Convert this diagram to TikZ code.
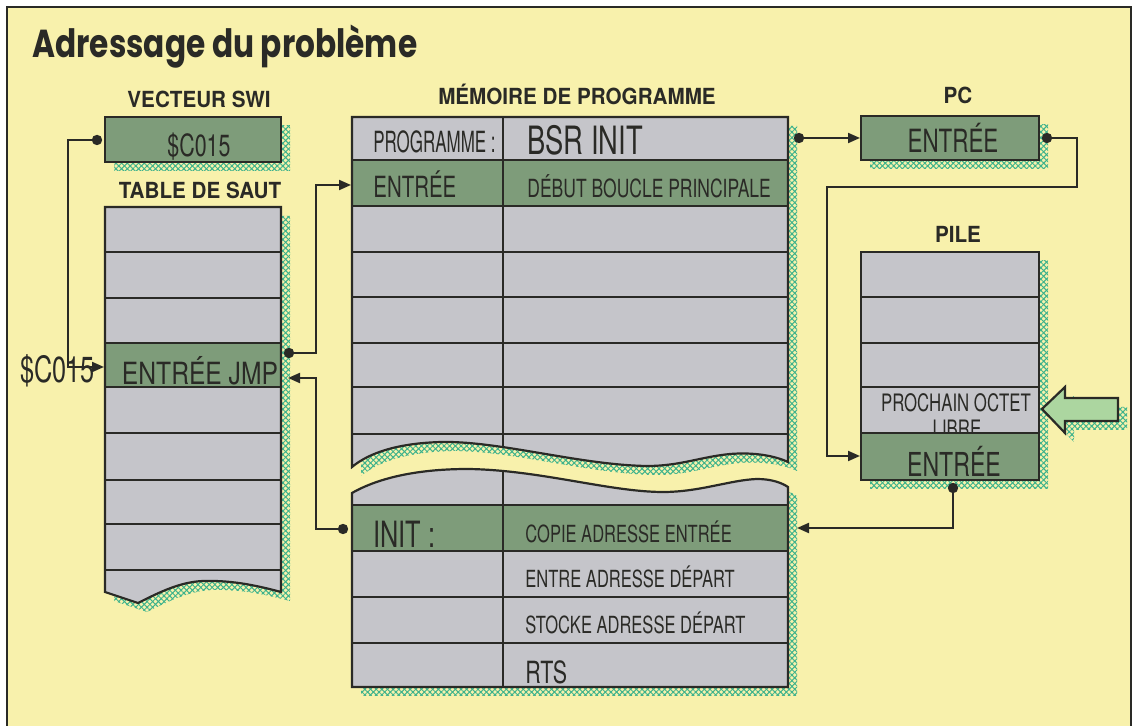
\documentclass[tikz,border=0pt]{standalone}
\usepackage{fontspec}
\setmainfont{TeX Gyre Heros}
\newfontfamily\titlefont[FakeStretch=0.8]{Poppins}
\newfontfamily\labfont[FakeStretch=0.93]{TeX Gyre Heros}
\newfontfamily\condfont[FakeStretch=0.7]{TeX Gyre Heros}
\usetikzlibrary{arrows.meta,patterns.meta}

\definecolor{paper}{RGB}{248,241,172}
\definecolor{cellgrey}{RGB}{197,197,202}
\definecolor{cellgreen}{RGB}{126,156,122}
\definecolor{arrowgreen}{RGB}{172,214,160}
\definecolor{hatchgreen}{RGB}{60,178,140}
\definecolor{ink}{RGB}{42,42,38}

% contours des blocs
\newcommand\tablepath{(105,207) -- (281,207) -- (281,592) .. controls (262,587) and (235,580) .. (203,581) .. controls (180,582) and (160,592) .. (138,603) -- (105,592) -- cycle}
\newcommand\hautpath{(352,117) -- (788,117) -- (788,462) .. controls (775,456) and (755,452) .. (730,454) .. controls (700,457) and (680,466) .. (647,466) .. controls (580,465) and (500,441) .. (442,442) .. controls (400,443) and (370,452) .. (352,467) -- cycle}
\newcommand\baspath{(352,493) .. controls (380,477) and (420,469) .. (468,469) .. controls (540,470) and (610,492) .. (663,492) .. controls (700,492) and (730,480) .. (757,479) .. controls (772,479) and (782,483) .. (788,487) -- (788,687) -- (352,687) -- cycle}
\newcommand\flechepath{(1042,409) -- (1065,387) -- (1065,398) -- (1118,398) -- (1118,421) -- (1065,421) -- (1065,433) -- cycle}

\tikzset{
  box/.style={draw=ink, line width=1.1pt},
  rowline/.style={draw=ink, line width=0.9pt},
  shade/.style={pattern={Lines[angle=45,distance=2pt,line width=0.5pt]}, pattern color=hatchgreen,
    postaction={pattern={Lines[angle=-45,distance=2pt,line width=0.5pt]}, pattern color=hatchgreen}},
  conn/.style={draw=ink, line width=1pt},
  tip/.style={-{Triangle[length=6pt,width=5pt]}},
  lab/.style={font=\labfont\bfseries\fontsize{11.1}{13}\selectfont, text=ink, inner sep=0pt, anchor=base},
  txt/.style={font=\condfont\fontsize{#1}{#1}\selectfont, text=ink, inner sep=0pt},
}

\begin{document}
\begin{tikzpicture}[x=0.5pt, y=-0.5pt]
  \useasboundingbox (0,0) rectangle (1137,726);
  \fill[white] (0,0) rectangle (1137,726);
  \fill[paper] (7,7) rectangle (1131,726);
  \draw[ink, line width=1pt] (7,726) -- (7,7) -- (1131,7) -- (1131,726);

  \node[font=\titlefont\bfseries\fontsize{19.5}{22}\selectfont, text=ink, anchor=base west, inner sep=0pt] (titre) at (32,58) {Adressage du problème};

  % titres des blocs
  \node[lab] (lswi) at (199,108) {VECTEUR SWI};
  \node[lab] (ltable) at (200,199) {TABLE DE SAUT};
  \node[lab] (lmem) at (577,105) {MÉMOIRE DE PROGRAMME};
  \node[lab] (lpc) at (958,104) {PC};
  \node[lab] (lpile) at (958,243) {PILE};

  % vecteur SWI
  \fill[shade] (114,126) rectangle (290,171);
  \filldraw[box, fill=cellgreen] (105,117) rectangle (281,162);

  % table de saut
  \fill[shade, shift={(9,9)}] \tablepath;
  \fill[cellgrey] \tablepath;
  \begin{scope}
    \clip \tablepath;
    \fill[cellgreen] (105,343) rectangle (281,387);
    \foreach \y in {252,298,343,387,433,480,524,570}
      \draw[rowline] (105,\y) -- (281,\y);
  \end{scope}
  \draw[box] \tablepath;

  % memoire de programme, partie haute
  \fill[shade, shift={(9,9)}] \hautpath;
  \fill[cellgrey] \hautpath;
  \begin{scope}
    \clip \hautpath;
    \fill[cellgreen] (352,160) rectangle (788,206);
    \foreach \y in {160,206,252,297,343,387,434}
      \draw[rowline] (352,\y) -- (788,\y);
    \draw[rowline] (503,117) -- (503,470);
  \end{scope}
  \draw[box] \hautpath;

  % memoire de programme, partie basse
  \fill[shade, shift={(9,9)}] \baspath;
  \fill[cellgrey] \baspath;
  \begin{scope}
    \clip \baspath;
    \fill[cellgreen] (352,505) rectangle (788,551);
    \foreach \y in {505,551,597,643}
      \draw[rowline] (352,\y) -- (788,\y);
    \draw[rowline] (503,465) -- (503,687);
  \end{scope}
  \draw[box] \baspath;

  % PC
  \fill[shade] (870,125) rectangle (1048,169);
  \filldraw[box, fill=cellgreen] (861,116) rectangle (1039,160);

  % pile
  \fill[shade] (870,261) rectangle (1048,489);
  \fill[cellgrey] (861,252) rectangle (1039,480);
  \node[txt=12, anchor=base] (prochain) at (956,412) {PROCHAIN OCTET};
  \node[txt=12, anchor=base] (libre) at (957,438) {LIBRE};
  \fill[cellgreen] (861,433) rectangle (1039,480);
  \foreach \y in {297,343,387,433}
    \draw[rowline] (861,\y) -- (1039,\y);
  \draw[box] (861,252) rectangle (1039,480);

  % fleche
  \fill[shade, shift={(9,9)}] \flechepath;
  \filldraw[box, fill=arrowgreen] \flechepath;

  % textes
  \node[txt=15.3, anchor=base] (swi) at (199,157) {\$C015};
  \node[txt=15.3, anchor=base, xscale=1.15] (jmp) at (200,385) {ENTRÉE JMP};
  \node[txt=18.1, anchor=base west] (adr) at (20,383) {\$C015};
  \node[txt=14.6, anchor=base west, xscale=0.83] (prog) at (373,153) {PROGRAMME :};
  \node[txt=19.5, anchor=base west] (bsr) at (527,155) {BSR INIT};
  \node[txt=14.6, anchor=base west] (entree) at (373,198) {ENTRÉE};
  \node[txt=12.5, anchor=base west] (debut) at (527,198) {DÉBUT BOUCLE PRINCIPALE};
  \node[txt=18.1, anchor=base west] (init) at (373,548) {INIT :};
  \node[txt=11.8, anchor=base west] (copie) at (525,543) {COPIE ADRESSE ENTRÉE};
  \node[txt=11.8, anchor=base west] (entre) at (525,588) {ENTRE ADRESSE DÉPART};
  \node[txt=11.8, anchor=base west] (stocke) at (525,634) {STOCKE ADRESSE DÉPART};
  \node[txt=15.3, anchor=base west] (rts) at (525,684) {RTS};
  \node[txt=16, anchor=base] (pc) at (953,153) {ENTRÉE};
  \node[txt=16.5, anchor=base] (pileent) at (954,477) {ENTRÉE};

  % liaisons
  \coordinate (swiL) at (97,140);
  \coordinate (coinA) at (68,140);
  \coordinate (jmpG) at (104,367);
  \draw[conn, tip] (swiL) -- (coinA) |- (jmpG);

  \coordinate (jmpD) at (289,353);
  \coordinate (coinB) at (316,353);
  \coordinate (entG) at (351,185);
  \draw[conn, tip] (jmpD) -- (coinB) |- (entG);

  \coordinate (initG) at (343,529);
  \coordinate (coinC) at (316,529);
  \coordinate (jmpR) at (288,378);
  \draw[conn, tip] (initG) -- (coinC) |- (jmpR);

  \coordinate (memD) at (799,138);
  \coordinate (pcG) at (860,138);
  \draw[conn, tip] (memD) -- (pcG);

  \coordinate (pcD) at (1047,138);
  \coordinate (coinD) at (1077,138);
  \coordinate (coinE) at (827,187);
  \coordinate (pileG) at (860,456);
  \draw[conn, tip] (pcD) -- (coinD) |- (coinE) |- (pileG);

  \coordinate (pileB) at (953,488);
  \coordinate (memR) at (797,528);
  \draw[conn, tip] (pileB) |- (memR);

  \foreach \p in {swiL,jmpD,initG,memD,pcD,pileB}
    \fill[ink] (\p) circle[radius=2.6pt];
\end{tikzpicture}
\end{document}
